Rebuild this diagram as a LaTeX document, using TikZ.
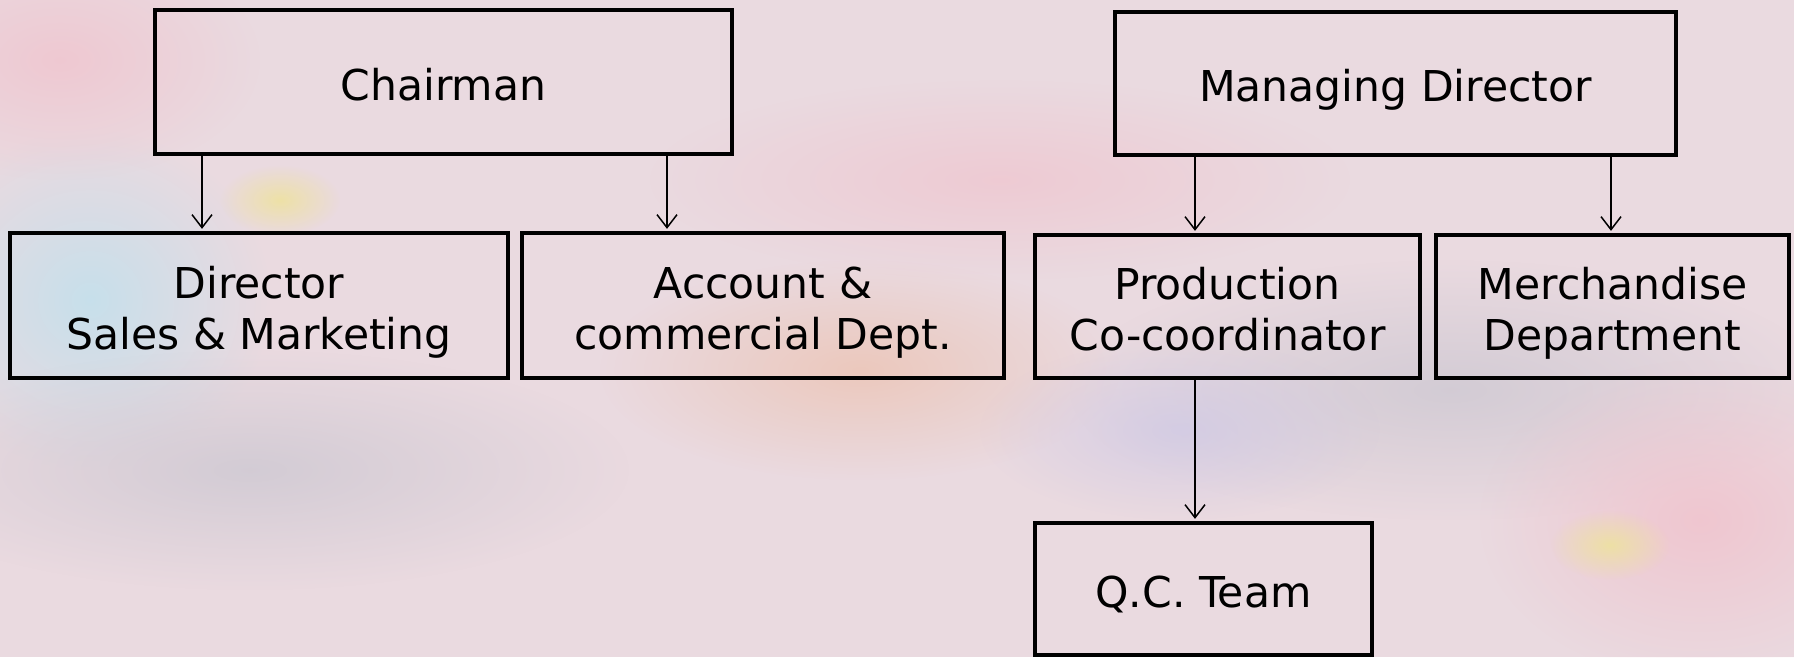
\documentclass[tikz,border=0pt]{standalone}
\usepackage{fontspec}
\setmainfont{DejaVu Sans}
\usetikzlibrary{arrows.meta,fadings}
\definecolor{bgbase}{RGB}{234,218,224}
\definecolor{bgpink}{RGB}{240,196,206}
\definecolor{bgblue}{RGB}{190,225,238}
\definecolor{bggray}{RGB}{205,200,210}
\definecolor{bgyellow}{RGB}{238,226,160}
\definecolor{bgorange}{RGB}{236,196,180}
\definecolor{bgviolet}{RGB}{205,200,230}
\tikzfading[name=softblob, inner color=transparent!0, outer color=transparent!100]
\newcommand{\boxtext}[1]{\raisebox{-8pt}[\height][\depth]{\begin{tabular}{@{}c@{}}#1\end{tabular}}}
\begin{document}
\begin{tikzpicture}[x=1pt,y=-1pt,
  box/.style={draw=black, line width=4.3pt, rectangle, inner sep=0pt,
    font=\fontsize{42.5}{51}\selectfont},
  link/.style={line width=1.5pt, shorten >=2pt, -{Straight Barb[length=13pt,width=20pt,line width=1.5pt]}},
  blob/.style={path fading=softblob, fit fading=true}]
\useasboundingbox (0,0) rectangle (1794,657);
% background (soft approximation of the photo)
\begin{scope}
\clip (0,0) rectangle (1794,657);
\fill[bgbase] (0,0) rectangle (1794,657);
\fill[bgblue, blob, opacity=0.8] (90,300) ellipse (180pt and 170pt);
\fill[bggray, blob, opacity=0.8] (1450,390) ellipse (380pt and 130pt);
\fill[bgpink, blob, opacity=0.9] (1700,520) ellipse (220pt and 160pt);
\fill[bggray, blob, opacity=0.8] (250,470) ellipse (380pt and 120pt);
\fill[bgpink, blob, opacity=0.8] (60,60) ellipse (200pt and 120pt);
\fill[bgpink, blob, opacity=0.7] (1000,180) ellipse (350pt and 100pt);
\fill[bgorange, blob, opacity=0.8] (860,370) ellipse (260pt and 110pt);
\fill[bgviolet, blob, opacity=0.7] (1180,430) ellipse (200pt and 90pt);
\fill[bgyellow, blob, opacity=0.9] (1610,545) ellipse (60pt and 35pt);
\fill[bgyellow, blob, opacity=0.9] (280,200) ellipse (60pt and 35pt);
\end{scope}
% boxes
\node[box, minimum width=577pt, minimum height=144pt] (chair) at (443.5,82) {\boxtext{Chairman}};
\node[box, minimum width=561pt, minimum height=143pt] (md) at (1395.5,83.5) {\boxtext{Managing Director}};
\node[box, minimum width=498pt, minimum height=145pt] (dir) at (259,305.5) {\boxtext{Director\\Sales \& Marketing}};
\node[box, minimum width=482pt, minimum height=145pt] (acc) at (763,305.5) {\boxtext{Account \&\\commercial Dept.}};
\node[box, minimum width=385pt, minimum height=143pt] (prod) at (1227.5,306.5) {\boxtext{Production\\Co-coordinator}};
\node[box, minimum width=353pt, minimum height=143pt] (merch) at (1612.5,306.5) {\boxtext{Merchandise\\Department}};
\node[box, minimum width=337pt, minimum height=132pt] (qc) at (1203.5,589) {\boxtext{Q.C. Team}};
% connectors
\coordinate (x1) at (202,0);
\coordinate (x2) at (667,0);
\coordinate (x3) at (1195,0);
\coordinate (x4) at (1611,0);
\draw[link] (chair.south -| x1) -- (dir.north -| x1);
\draw[link] (chair.south -| x2) -- (acc.north -| x2);
\draw[link] (md.south -| x3) -- (prod.north -| x3);
\draw[link] (md.south -| x4) -- (merch.north -| x4);
\draw[link] (prod.south -| x3) -- (qc.north -| x3);
\end{tikzpicture}
\end{document}
